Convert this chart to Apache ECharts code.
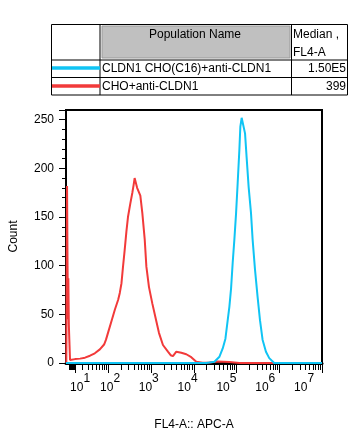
<!DOCTYPE html>
<html><head><meta charset="utf-8">
<script src="https://cdn.jsdelivr.net/npm/echarts@6/dist/echarts.min.js"></script>
<style>html,body{margin:0;padding:0;background:#fff}#c{width:363px;height:444px}</style>
</head><body><div id="c"></div>
<script>
// ---- data (FL4-A intensity, count) ----
const redX = [-0.6,0.24,0.83,1.41,1.77,2.36,2.95,3.78,6.2,10,17,25,35,47,63,80,89,101,122,145,173,189,207,225,246,270,294,334,372,399,421,461,481,508,572,637,724,792,911,1092,1304,1557,1931,2525,2920,3302,3962,4249,5179,6771,8851,11572,16207,23585,36222,68871,117632,10000000];
const redY = [0,182,100,45,87,40,24,3,3,4,4.5,5.5,7.5,10,14,19,24,32,44,55,65,72,82,99,116,135,150,164,175,183,190,189,180,178,172,154,127,99,78,61,46,31,18.5,11.6,8,7,11.6,11,10.5,9,6,1.3,0.3,0.5,1.5,1,0,0];
const blueX = [-1,19756,30822,40304,48048,55550,62810,68783,75339,82104,89925,98505,107338,117568,123970,132968,145629,159500,173822,193446,219868,239580,272580,313170,356290,409420,491150,586300,766370,10000000];
const blueY = [0,0,1.3,6.5,15,25,44,58,77,103,127,154,185,219,243,252,250,236,211,181,154,127,96,68,44,24,11.6,5,0,0];
const xDecades = [1,2,3,4,5,6,7];
const yMajor = [0,50,100,150,200,250,260];
const yLabels = [0,50,100,150,200,250];
const legendNames = ['CLDN1 CHO(C16)+anti-CLDN1','CHO+anti-CLDN1'];
const legendMedians = ['1.50E5','399'];
const legendColors = ['#10c4f4','#f23a3a'];

// ---- biexponential display transform ----
const C = 22;                       // linear width of the biex scale
const T = v => Math.asinh(v / C) / Math.LN10;
const Tinv = t => C * Math.sinh(t * Math.LN10);
const xMin = T(-1), xMax = T(1e7);
// FlowJo places the decade labels on a slightly compressed copy of the scale
const labelPivot = T(315), labelStretch = 0.907;
const lMin = labelPivot + (xMin - labelPivot) / labelStretch;
const lMax = labelPivot + (xMax - labelPivot) / labelStretch;

// x ticks: [scale value, 1 = decade / 0 = minor]
const xTicks = xDecades.map(n => [T(Math.pow(10, n)), 1]);
for (let n = 0; n <= 6; n++) for (let k = 2; k <= 9; k++) xTicks.push([T(k * Math.pow(10, n)), 0]);
const yMinor = [];
for (let v = 0; v <= 260; v += 10) yMinor.push(v);

const FONT = 'Liberation Sans, Arial, sans-serif';
const chart = echarts.init(document.getElementById('c'), null, {renderer: 'canvas'});

const hidden = () => ({axisLine: {show: false, onZero: false}, splitLine: {show: false}});
chart.setOption({
  animation: false,
  textStyle: {fontFamily: FONT},
  grid: {left: 66, top: 110, right: 41, bottom: 81, show: true, borderColor: '#000', borderWidth: 2, containLabel: false, outerBoundsMode: 'none'},
  xAxis: [
    {type: 'value', min: xMin, max: xMax, position: 'bottom', splitLine: {show: false},
      name: 'FL4-A:: APC-A', nameLocation: 'middle', nameGap: 56,
      nameTextStyle: {color: '#000', fontSize: 12, fontFamily: FONT},
      axisLine: {show: true, onZero: false, lineStyle: {color: '#000', width: 3}},
      axisTick: {show: false},
      axisLabel: {show: false}},
    Object.assign({type: 'value', min: lMin, max: lMax, position: 'bottom'}, hidden(), {
      axisTick: {show: false},
      axisLabel: {show: true, customValues: xDecades.map(n => T(Math.pow(10, n))), margin: 10, color: '#000', hideOverlap: false,
        showMinLabel: true, showMaxLabel: true,
        formatter: v => '{b|10}{s|' + Math.round(Math.log10(Tinv(v))) + '}',
        rich: {b: {fontSize: 12, fontFamily: FONT, color: '#000', lineHeight: 21, verticalAlign: 'bottom'},
               s: {fontSize: 12, fontFamily: FONT, color: '#000', lineHeight: 21, verticalAlign: 'top'}}}})
  ],
  yAxis: [
    {type: 'value', min: 0, max: 260, position: 'left', splitLine: {show: false},
     name: 'Count', nameLocation: 'middle', nameGap: 46, nameRotate: 90,
     nameTextStyle: {color: '#000', fontSize: 12, fontFamily: FONT},
     axisLine: {show: true, onZero: false, lineStyle: {color: '#000', width: 2}},
     axisTick: {show: true, customValues: yMajor, length: 7, lineStyle: {color: '#000', width: 1}},
     axisLabel: {show: true, customValues: yLabels, margin: 12, color: '#000', fontSize: 12, fontFamily: FONT}},
    Object.assign({type: 'value', min: 0, max: 260, position: 'left'}, hidden(), {
     axisTick: {show: true, customValues: yMinor, length: 4, lineStyle: {color: '#000', width: 1}},
     axisLabel: {show: false}})
  ],
  series: [
    {type: 'line', name: legendNames[1], data: redX.map((v, i) => [T(v), redY[i]]), showSymbol: false, symbol: 'none',
     lineStyle: {color: legendColors[1], width: 2}, xAxisIndex: 0, yAxisIndex: 0, clip: true},
    {type: 'line', name: legendNames[0], data: blueX.map((v, i) => [T(v), blueY[i]]), showSymbol: false, symbol: 'none',
     lineStyle: {color: legendColors[0], width: 2}, xAxisIndex: 0, yAxisIndex: 0, clip: true}
  ]
});

// ---- graphic: table + x ticks placed through the chart's own scale ----
const g = [];
const L = (x1, y1, x2, y2, w, c) => g.push({type: 'line', shape: {x1, y1, x2, y2}, style: {stroke: c || '#000', lineWidth: w || 1}, silent: true, z: 100});
const tbl = {x0: 51.5, x1: 100, x2: 291.5, x3: 347.5, y0: 24.5, y1: 60, y2: 77.5, y3: 95};
g.push({type: 'rect', shape: {x: 102, y: 26, width: 188, height: 32}, style: {fill: '#c0c0c0', stroke: '#9a9a9a', lineWidth: 1}});
L(tbl.x0, tbl.y0, tbl.x3, tbl.y0); L(tbl.x0, tbl.y3, tbl.x3, tbl.y3);
L(tbl.x0, tbl.y1, tbl.x3, tbl.y1); L(tbl.x0, tbl.y2, tbl.x3, tbl.y2);
L(tbl.x0, tbl.y0, tbl.x0, tbl.y3); L(tbl.x1, tbl.y0, tbl.x1, tbl.y3);
L(tbl.x2, tbl.y0, tbl.x2, tbl.y3); L(tbl.x3, tbl.y0, tbl.x3, tbl.y3);
const T12 = (text, x, y, align) => g.push({type: 'text', x, y, style: {text, fill: '#000', font: '12px ' + FONT, textAlign: align || 'left', textVerticalAlign: 'middle'}});
T12('Population Name', 195, 35, 'center');
T12('Median ,', 293, 35); T12('FL4-A', 293, 53);
legendNames.forEach((nm, i) => {
  const yc = [68.5, 86.5][i];
  L(52, yc - 0.5, 100, yc - 0.5, 3.5, legendColors[i]);
  T12(nm, 102, yc + 0.5);
  T12(legendMedians[i], 346, yc + 0.5, 'right');
});
xTicks.forEach(([t, major]) => {
  const p = chart.convertToPixel({xAxisIndex: 0, yAxisIndex: 0}, [t, 0]);
  if (!p) return;
  const x = Math.round(p[0]) + 0.5;
  L(x, p[1] + 1, x, p[1] + 2 + (major ? 8 : 5), 1, '#000');
});
chart.setOption({graphic: g});
</script>
</body></html>
